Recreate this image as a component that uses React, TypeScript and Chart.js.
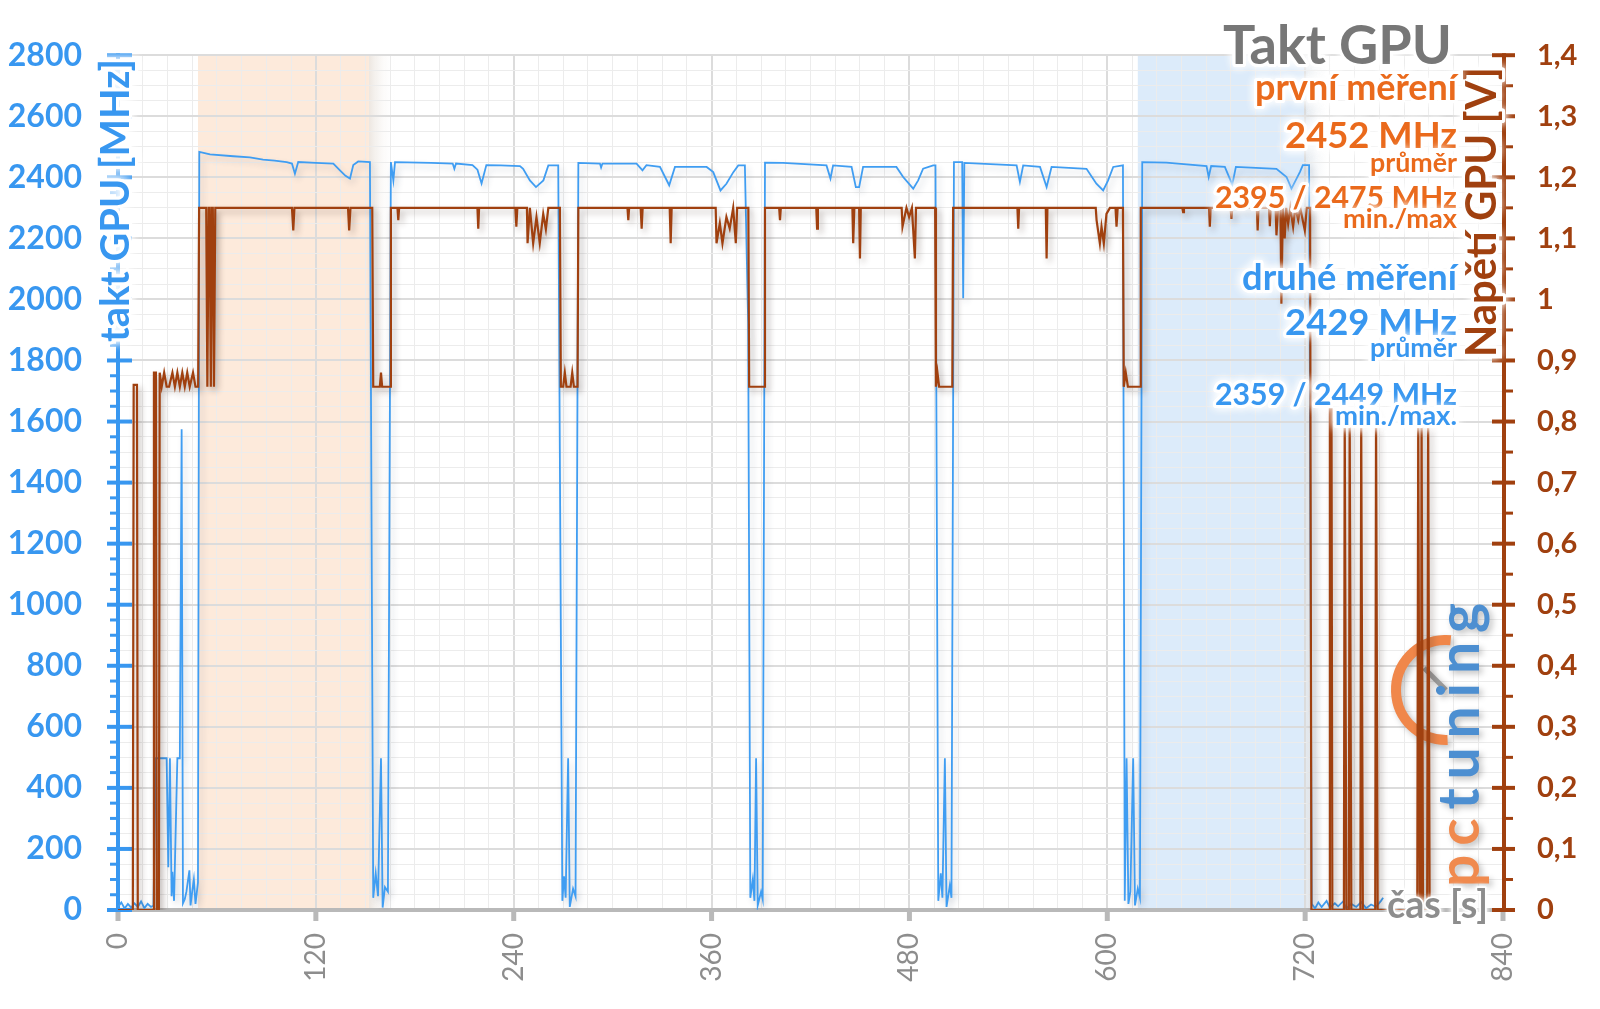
import { useEffect, useRef } from 'react';
import { Chart, registerables } from 'chart.js';

Chart.register(...registerables);

// ---------------- data ----------------
// GPU clock [MHz] : [time s, MHz]
const CLOCK_SERIES: number[][] = [
  [0, 10], [2, 25], [4, 5], [6, 20], [8, 8], [10, 22], [12, 10], [14, 28], [16, 6], [18, 20], [20, 10], [21.5, 15],
  [23, 497], [29.5, 497], [30.5, 140], [31.5, 497], [32.5, 45], [33, 125], [34, 30], [36, 497], [37.5, 497],
  [38.6, 1575], [39.4, 22], [40.5, 35], [41.5, 60], [43.3, 130], [44, 15], [45, 60], [46, 100], [47, 20], [48.5, 90],
  [49.3, 2483], [55.8, 2475], [70, 2469], [80, 2465], [88, 2458], [95, 2455], [102.3, 2450], [105.5, 2445],
  [107.3, 2412], [109.3, 2450], [120, 2447], [130.6, 2445], [134.6, 2423], [138, 2405], [140.7, 2396],
  [142.7, 2440], [145.7, 2452], [152.8, 2450],
  [154.8, 40], [156.3, 120], [157.7, 45], [159.5, 497], [160.5, 8], [161.9, 75], [163.7, 60],
  [165.5, 2450], [167, 2390], [168, 2450], [190, 2447], [203, 2445], [204, 2428], [205, 2445], [215, 2440],
  [218, 2425], [220.5, 2380], [223.4, 2440], [232, 2439], [243.8, 2437], [245.7, 2428], [249.8, 2390],
  [253.5, 2368], [258, 2390], [261, 2439], [267, 2439],
  [269.5, 30], [270.5, 110], [271.5, 40], [273, 497], [274, 10], [276, 70], [277.5, 45],
  [279.2, 2447], [292.3, 2445], [293, 2432], [293.8, 2445], [314.5, 2445], [318.1, 2423], [320.5, 2440],
  [328.7, 2434], [334.3, 2374], [337.8, 2434], [357, 2434], [361, 2417], [365.4, 2357], [369, 2379],
  [373.2, 2417], [376.2, 2439], [380.2, 2439], [382.2, 1922],
  [383.5, 40], [385, 100], [386, 30], [387, 497], [388, 15], [390, 60], [391, 35],
  [392.4, 2448], [403.3, 2447], [429.7, 2439], [432.1, 2396], [433.7, 2439], [444.9, 2434], [447.5, 2368],
  [449.5, 2368], [451.9, 2434], [472.1, 2434], [476.2, 2401], [482.3, 2363], [485.3, 2390], [488.3, 2428],
  [494.4, 2439], [495.8, 2439],
  [497.5, 30], [499, 120], [500, 40], [501.5, 497], [502.5, 10], [504.5, 80], [505.5, 40],
  [507, 2450], [512, 2450], [512.6, 2004], [513.3, 2447], [545, 2439], [547, 2385], [549, 2439],
  [559.2, 2434], [563.2, 2368], [566.2, 2434], [587.4, 2428], [593.4, 2379], [597.5, 2357], [600.5, 2390],
  [603.6, 2434], [609.5, 2439],
  [610.6, 30], [611.7, 497], [612.8, 20], [614, 60], [615.7, 497], [616.8, 15], [618.5, 70], [619.8, 40],
  [621.2, 2450], [635.9, 2448], [660.2, 2437], [661.5, 2401], [663, 2437], [671.3, 2434], [675.8, 2376],
  [678, 2434], [702.6, 2428], [708.7, 2401], [711.7, 2363], [713.8, 2385], [716.8, 2417], [718.6, 2440],
  [722.4, 2440],
  [724, 20], [726, 5], [728, 25], [730, 10], [733, 30], [735, 8], [738, 22], [740, 12], [743, 28], [745, 5],
  [748, 20], [751, 10], [754, 26], [757, 6], [760, 18], [763, 10], [766, 30], [767.3, 40],
];

// GPU voltage [V] : [time s, V]
const VOLT_SERIES: number[][] = [
  [0, 0], [9, 0], [9.5, 0.86], [11.5, 0.86], [12, 0], [21.3, 0], [21.8, 0.88], [23, 0.88], [23.5, 0], [24.8, 0],
  [25.3, 0.88], [26.5, 0.857], [28, 0.88], [29.5, 0.857], [31, 0.857], [33, 0.88], [34.5, 0.857], [36, 0.88],
  [37.5, 0.857], [39, 0.88], [40.5, 0.857], [42, 0.88], [43.5, 0.857], [45.5, 0.88], [47, 0.857], [48.6, 0.857],
  [49.2, 1.15], [53.5, 1.15], [54.2, 0.857], [55, 1.15], [55.6, 1.15], [56.3, 0.857], [57, 1.15], [57.5, 1.15],
  [58.2, 0.857], [59, 1.15], [105.5, 1.15], [106.3, 1.113], [107, 1.15], [139.5, 1.15], [140.2, 1.113], [141, 1.15],
  [154.2, 1.15], [154.8, 0.857], [158.8, 0.857], [159.5, 0.88], [160.2, 0.857], [165, 0.857], [165.5, 1.15],
  [169.5, 1.15], [170, 1.13], [170.5, 1.15], [218, 1.15], [218.5, 1.116], [219, 1.15], [241, 1.15], [241.6, 1.119],
  [242.2, 1.15], [248, 1.15], [248.4, 1.092], [249.8, 1.15], [251.8, 1.092], [253.8, 1.135], [255.8, 1.092],
  [257.9, 1.14], [259.5, 1.115], [261, 1.15], [268, 1.15], [268.6, 0.857], [270, 0.857], [271, 0.88], [272, 0.857],
  [274.5, 0.857], [275.5, 0.88], [276.5, 0.857], [278.7, 0.857], [279.2, 1.15], [309, 1.15], [309.5, 1.13],
  [310, 1.15], [317, 1.15], [317.6, 1.116], [318.2, 1.15], [334.6, 1.15], [335.2, 1.092], [335.8, 1.15],
  [362.5, 1.15], [363, 1.092], [365, 1.125], [366.6, 1.092], [369, 1.135], [371, 1.116], [373.1, 1.15],
  [374.7, 1.092], [375.5, 1.15], [382.3, 1.15], [382.8, 0.857], [392, 0.857], [392.4, 1.15], [401, 1.15],
  [401.5, 1.13], [402, 1.15], [423.5, 1.15], [424, 1.116], [424.5, 1.15], [445.4, 1.15], [445.9, 1.092],
  [446.6, 1.15], [449.5, 1.15], [450, 1.067], [450.5, 1.15], [475.3, 1.15], [475.8, 1.119], [478.2, 1.15],
  [479.8, 1.135], [481.5, 1.15], [483.3, 1.067], [484, 1.15], [495.6, 1.15], [496.1, 0.857], [497, 0.88],
  [498, 0.857], [506, 0.857], [506.5, 1.15], [545.5, 1.15], [546, 1.116], [546.5, 1.15], [562.7, 1.15],
  [563.2, 1.067], [563.7, 1.15], [593, 1.15], [593.5, 1.13], [595.5, 1.092], [596.5, 1.119], [597.9, 1.092],
  [599.5, 1.14], [601.6, 1.15], [605, 1.15], [605.6, 1.119], [606.3, 1.15], [609.5, 1.15], [610, 0.857],
  [611.2, 0.88], [612.5, 0.857], [620, 0.857], [620.3, 1.15], [645.5, 1.15], [646, 1.143], [646.5, 1.15],
  [661.7, 1.15], [662.2, 1.119], [662.7, 1.15], [674.8, 1.15], [675.3, 1.132], [675.8, 1.15], [690.7, 1.15],
  [691.2, 1.113], [691.7, 1.15], [698.1, 1.15], [698.6, 1.12], [699.1, 1.15], [702.1, 1.15], [702.6, 1.105],
  [703.6, 1.15], [705, 1.15], [705.6, 0.993], [706.5, 1.15], [707.6, 1.1], [708.5, 1.15], [709.7, 1.124],
  [711, 1.15], [712.7, 1.119], [714, 1.15], [715.8, 1.13], [717, 1.15], [719.8, 1.113], [721, 1.15], [723, 1.15],
  [723.8, 0], [734.5, 0], [735, 0.82], [736, 0.82], [736.5, 0], [743.5, 0], [744, 0.82], [745, 0], [746.5, 0],
  [747, 0.82], [748, 0], [753.5, 0], [754, 0.82], [755, 0], [762.5, 0], [763, 0.82], [764, 0], [788, 0],
  [788.6, 0.82], [789.5, 0], [790.2, 0], [790.6, 0.82], [791.5, 0], [794, 0], [794.6, 0.82], [795.5, 0], [797, 0],
];

const FIRST_BAND = [48.5, 152.2];
const SECOND_BAND = [618.5, 720];
const X_MAJOR_STEP = 120;
const Y_MAJOR_STEP = 200;

const TITLE = 'Takt GPU';
const Y_TITLE = 'takt GPU [MHz]';
const Y1_TITLE = 'Napětí GPU [V]';
const X_TITLE = 'čas [s]';
const FIRST_LINES = ['první měření', '2452 MHz', 'průměr', '2395 / 2475 MHz', 'min./max'];
const SECOND_LINES = ['druhé měření', '2429 MHz', 'průměr', '2359 / 2449 MHz', 'min./max.'];
const LOGO = ['pc', 'tuning'];

// ---------------- styles ----------------
const FONT = 'Lato';
const BLUE = '#3897f0';
const BLUE_LINE = '#3f9df2';
const BROWN = '#a0400f';
const ORANGE = '#ea6a1c';
const TITLE_GRAY = '#777777';
const LABEL_GRAY = '#8d8d8d';
const AXIS_GRAY = '#b9b9b9';
const GRID_MAJOR = '#dcdcdc';
const GRID_MINOR = '#ececec';

function fitSize(ctx: CanvasRenderingContext2D, text: string, width: number, weight = 'bold') {
  ctx.font = `${weight} 100px ${FONT}`;
  const w = ctx.measureText(text).width;
  return (100 * width) / w;
}

function glowText(
  ctx: CanvasRenderingContext2D, text: string, x: number, y: number, size: number, color: string,
  align: CanvasTextAlign = 'right', rotate = 0, weight = 'bold', blur = 10, stroke = 6
) {
  ctx.save();
  ctx.translate(x, y);
  if (rotate) ctx.rotate(rotate);
  ctx.font = `${weight} ${size}px ${FONT}`;
  ctx.textAlign = align;
  ctx.textBaseline = 'alphabetic';
  ctx.shadowColor = 'rgba(255,255,255,1)';
  ctx.shadowBlur = blur;
  ctx.strokeStyle = 'rgba(255,255,255,0.95)';
  ctx.lineWidth = stroke;
  ctx.lineJoin = 'round';
  ctx.strokeText(text, 0, 0);
  ctx.strokeText(text, 0, 0);
  ctx.shadowBlur = 0;
  ctx.fillStyle = color;
  ctx.fillText(text, 0, 0);
  ctx.restore();
}

const decorPlugin = {
  id: 'decor',
  beforeDraw(chart: any) {
    const { ctx, chartArea: a, scales } = chart;
    const x = scales.x;
    ctx.save();
    const band = (r: number[], color: string, shade: string) => {
      const x0 = x.getPixelForValue(r[0]);
      const x1 = x.getPixelForValue(r[1]);
      ctx.fillStyle = color;
      ctx.fillRect(x0, a.top, x1 - x0, a.bottom - a.top);
      const g = ctx.createLinearGradient(x1, 0, x1 + 26, 0);
      g.addColorStop(0, shade);
      g.addColorStop(1, 'rgba(255,255,255,0)');
      ctx.fillStyle = g;
      ctx.fillRect(x1, a.top, 26, a.bottom - a.top);
    };
    band(FIRST_BAND, '#fdeadb', 'rgba(225,215,205,0.6)');
    band(SECOND_BAND, '#dcebfa', 'rgba(205,215,225,0.6)');
    ctx.restore();
  },
  beforeDatasetsDraw(chart: any) {
    const { ctx, chartArea: a, scales } = chart;
    const { x, y, y1 } = scales;
    ctx.save();
    ctx.lineCap = 'butt';
    // logo watermark (under the data)
    ctx.save();
    ctx.shadowColor = 'rgba(0,0,0,0.25)';
    ctx.shadowBlur = 6;
    ctx.shadowOffsetX = 3;
    ctx.shadowOffsetY = 3;
    ctx.strokeStyle = '#f0874a';
    ctx.lineWidth = 10;
    ctx.beginPath();
    ctx.arc(1446, 690, 50, 0.49 * Math.PI, 1.53 * Math.PI);
    ctx.stroke();
    ctx.strokeStyle = '#9a9a9a';
    ctx.lineWidth = 5;
    ctx.beginPath();
    ctx.moveTo(1446, 690);
    ctx.lineTo(1424, 668);
    ctx.stroke();
    ctx.translate(1479, 887);
    ctx.rotate(-Math.PI / 2);
    const size = 57;
    ctx.font = `bold ${size}px ${FONT}`;
    const full = LOGO.join('');
    const w = ctx.measureText(full).width;
    const sp = Math.max(0, (284 - w) / (full.length - 1));
    ctx.textAlign = 'left';
    let cx = 0;
    for (let i = 0; i < full.length; i++) {
      const ch = full[i];
      ctx.fillStyle = i < LOGO[0].length ? '#f08a4e' : '#4d8fd1';
      ctx.fillText(ch, cx, 0);
      cx += ctx.measureText(ch).width + sp;
    }
    ctx.restore();

    // bottom axis
    ctx.strokeStyle = AXIS_GRAY;
    ctx.lineWidth = 4;
    ctx.beginPath();
    ctx.moveTo(a.left, a.bottom);
    ctx.lineTo(a.right + 2, a.bottom);
    ctx.stroke();
    ctx.lineWidth = 5;
    for (let v = 0; v <= 840; v += X_MAJOR_STEP) {
      const px = x.getPixelForValue(v);
      ctx.beginPath();
      ctx.moveTo(px, a.bottom);
      ctx.lineTo(px, a.bottom + 11);
      ctx.stroke();
    }
    // left axis
    ctx.strokeStyle = BLUE;
    ctx.lineWidth = 4;
    ctx.beginPath();
    ctx.moveTo(a.left, a.top - 2);
    ctx.lineTo(a.left, a.bottom + 2);
    ctx.stroke();
    for (let v = 0; v <= 2800; v += 50) {
      const py = y.getPixelForValue(v);
      const major = v % Y_MAJOR_STEP === 0;
      ctx.lineWidth = major ? 4 : 3;
      ctx.beginPath();
      ctx.moveTo(major ? a.left - 11 : a.left - 8, py);
      ctx.lineTo(major ? a.left + 14 : a.left + 2, py);
      ctx.stroke();
    }
    // right axis
    ctx.strokeStyle = BROWN;
    ctx.lineWidth = 4;
    ctx.beginPath();
    ctx.moveTo(a.right + 1, a.top - 2);
    ctx.lineTo(a.right + 1, a.bottom + 2);
    ctx.stroke();
    for (let k = 0; k <= 28; k++) {
      const v = k * 0.05;
      const py = y1.getPixelForValue(v);
      const major = k % 2 === 0;
      ctx.lineWidth = major ? 4 : 3;
      ctx.beginPath();
      ctx.moveTo(major ? a.right - 11 : a.right, py);
      ctx.lineTo(major ? a.right + 12 : a.right + 10, py);
      ctx.stroke();
    }
    ctx.restore();
  },
  beforeDatasetDraw(chart: any, args: any) {
    const ctx = chart.ctx;
    ctx.save();
    ctx.shadowColor = args.index === 0 ? 'rgba(60,40,30,0.33)' : 'rgba(40,60,90,0.2)';
    ctx.shadowBlur = 6;
    ctx.shadowOffsetX = 3;
    ctx.shadowOffsetY = 4;
  },
  afterDatasetDraw(chart: any) {
    chart.ctx.restore();
  },
  afterDraw(chart: any) {
    const { ctx } = chart;
    ctx.save();
    // axis titles
    glowText(ctx, Y_TITLE, 129, 342, fitSize(ctx, Y_TITLE, 283), BLUE, 'left', -Math.PI / 2);
    glowText(ctx, Y1_TITLE, 1496, 357, fitSize(ctx, Y1_TITLE, 290), BROWN, 'left', -Math.PI / 2);
    glowText(ctx, X_TITLE, 1387, 918, fitSize(ctx, X_TITLE, 101), LABEL_GRAY, 'left', 0, 'bold', 5, 3);
    // title and summary block
    glowText(ctx, TITLE, 1452, 64, fitSize(ctx, TITLE, 229), TITLE_GRAY, 'right');
    const R = 1457;
    const rows: [string, number, number][] = [
      [FIRST_LINES[0], 100, 202], [FIRST_LINES[1], 148, 172], [FIRST_LINES[2], 172, 87],
      [FIRST_LINES[3], 208, 242], [FIRST_LINES[4], 228, 114],
    ];
    rows.forEach(([t, by, w]) => glowText(ctx, t, R, by, fitSize(ctx, t, w), ORANGE, 'right'));
    const rows2: [string, number, number][] = [
      [SECOND_LINES[0], 290, 215], [SECOND_LINES[1], 335, 172], [SECOND_LINES[2], 357, 87],
      [SECOND_LINES[3], 405, 242], [SECOND_LINES[4], 425, 122],
    ];
    rows2.forEach(([t, by, w]) => glowText(ctx, t, R, by, fitSize(ctx, t, w), BLUE, 'right'));
    ctx.restore();
  },
};

export default function App() {
  const ref = useRef<HTMLCanvasElement | null>(null);
  useEffect(() => {
    let chart: Chart | null = null;
    let cancelled = false;
    const make = () => {
      if (cancelled || !ref.current) return;
      const xy = (s: number[][]) => s.map(([t, v]) => ({ x: t, y: v }));
      chart = new Chart(ref.current, {
        type: 'line',
        data: {
          datasets: [
            {
              label: 'Napětí GPU',
              data: xy(VOLT_SERIES),
              yAxisID: 'y1',
              borderColor: BROWN,
              borderWidth: 2.2,
              pointRadius: 0,
              tension: 0,
              fill: false,
            },
            {
              label: 'takt GPU',
              data: xy(CLOCK_SERIES),
              yAxisID: 'y',
              borderColor: BLUE_LINE,
              borderWidth: 1.8,
              pointRadius: 0,
              tension: 0,
              fill: false,
            },
          ],
        },
        options: {
          animation: false,
          responsive: false,
          devicePixelRatio: 1,
          events: [],
          layout: { padding: { top: 55, left: 0, right: 0, bottom: 0 } },
          plugins: { legend: { display: false }, tooltip: { enabled: false } },
          scales: {
            x: {
              type: 'linear',
              min: 0,
              max: 840,
              afterFit: (s: any) => { s.height = 99; },
              border: { display: false },
              grid: {
                drawTicks: false,
                color: (c: any) => (c.tick && c.tick.value % X_MAJOR_STEP === 0 ? GRID_MAJOR : GRID_MINOR),
                lineWidth: (c: any) => (c.tick && c.tick.value % X_MAJOR_STEP === 0 ? 2 : 1),
              },
              ticks: {
                stepSize: 15,
                autoSkip: false,
                minRotation: 90,
                maxRotation: 90,
                padding: 23,
                color: LABEL_GRAY,
                font: { family: FONT, size: 28 },
                callback: (v: any) => (Number(v) % X_MAJOR_STEP === 0 ? String(v) : ''),
              },
            },
            y: {
              position: 'left',
              min: 0,
              max: 2800,
              afterFit: (s: any) => { s.width = 118; },
              border: { display: false },
              grid: {
                drawTicks: false,
                color: (c: any) => (c.tick && c.tick.value % Y_MAJOR_STEP === 0 ? GRID_MAJOR : GRID_MINOR),
                lineWidth: (c: any) => (c.tick && c.tick.value % Y_MAJOR_STEP === 0 ? 2 : 1),
              },
              ticks: {
                stepSize: 50,
                autoSkip: false,
                padding: 36,
                color: BLUE,
                font: { family: FONT, size: 32, weight: 'bold' },
                callback: (v: any) => (Number(v) % Y_MAJOR_STEP === 0 ? String(v) : ''),
              },
            },
            y1: {
              position: 'right',
              min: 0,
              max: 1.4,
              afterFit: (s: any) => { s.width = 97; },
              border: { display: false },
              grid: { drawOnChartArea: false, drawTicks: false },
              ticks: {
                stepSize: 0.05,
                autoSkip: false,
                padding: 34,
                color: BROWN,
                font: { family: FONT, size: 29, weight: 'bold' },
                callback: (v: any) => {
                  const k = Math.round(Number(v) * 100);
                  return k % 10 === 0 ? String(k / 100).replace('.', ',') : '';
                },
              },
            },
          },
        },
        plugins: [decorPlugin],
      } as any);
    };
    const fonts = (document as any).fonts;
    if (fonts && fonts.load) {
      Promise.all([fonts.load(`bold 30px ${FONT}`), fonts.load(`30px ${FONT}`)]).then(make, make);
    } else {
      make();
    }
    return () => {
      cancelled = true;
      if (chart) chart.destroy();
    };
  }, []);
  return (
    <div style={{ position: 'fixed', left: 0, top: 0, width: 1600, height: 1009, background: '#fff' }}>
      <canvas ref={ref} width={1600} height={1009} style={{ display: 'block', width: 1600, height: 1009 }} />
    </div>
  );
}
